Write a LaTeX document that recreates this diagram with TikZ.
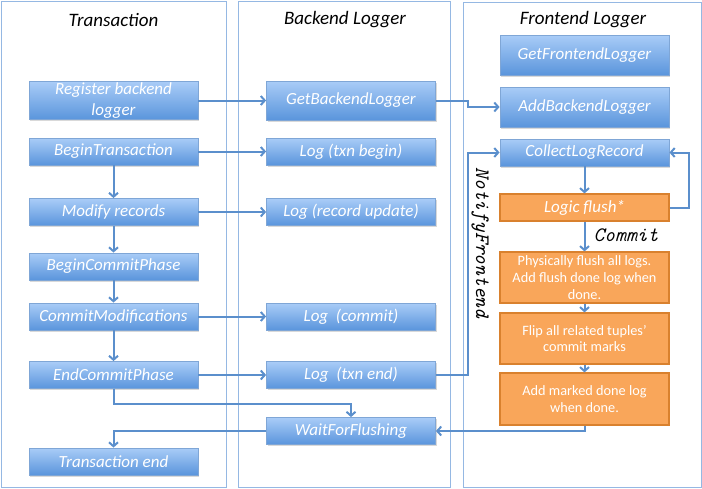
\documentclass[tikz,border=0pt]{standalone}
\usepackage{fontspec}
\setmainfont{Carlito}
\usepackage{tikz}
\usetikzlibrary{positioning,arrows.meta,shadows}
\definecolor{PanelLine}{HTML}{95B8E3}
\definecolor{BoxTop}{HTML}{A9CCF7}
\definecolor{BoxBottom}{HTML}{5A95DC}
\definecolor{BoxLine}{HTML}{7FA6D6}
\definecolor{FlushOrange}{HTML}{F9A65A}
\definecolor{FlushLine}{HTML}{D9812E}
\definecolor{FlowBlue}{HTML}{5B8FCC}
\tikzset{
  panel/.style={draw=PanelLine, line width=1pt},
  coltitle/.style={font=\fontsize{19}{22}\selectfont\itshape},
  blubox/.style={draw=BoxLine, line width=0.8pt, top color=BoxTop, bottom color=BoxBottom,
    text=white, font=\fontsize{17}{20.7}\selectfont\itshape, align=center,
    minimum width=169pt, minimum height=27pt, inner sep=0pt,
    drop shadow={opacity=0.3, shadow xshift=1pt, shadow yshift=-1.5pt}},
  orgbox/.style={draw=FlushLine, line width=1.2pt, fill=FlushOrange,
    text=white, font=\fontsize{14.3}{16.7}\selectfont, align=center,
    minimum width=169pt, minimum height=27pt, inner sep=0pt},
  flow/.style={draw=FlowBlue, line width=2pt, -{Straight Barb[length=4pt, width=9pt]}},
  codelbl/.style={font=\fontsize{20.5}{24}\selectfont\ttfamily\itshape}
}
\begin{document}
\begin{tikzpicture}[x=1pt, y=-1pt]
        \useasboundingbox (0,0) rectangle (702,488);
        % Three swim lanes
        \draw[panel] (1,1) rectangle (226,487);
        \draw[panel] (238,1) rectangle (450,487);
        \draw[panel] (463,2) rectangle (701,487);
        \node[coltitle] (ttxn) at (113.5,20) {Transaction};
        \node[coltitle] (tback) at (345,20) {Backend Logger};
        \node[coltitle] (tfront) at (583,20) {Frontend Logger};

        % Transaction lane
        \node[blubox, minimum height=38pt] (reg) at (113.5,100.5) {Register backend\\logger};
        \node[blubox] (bt) at (113.5,151.5) {BeginTransaction};
        \node[blubox] (mod) at (113.5,212) {Modify records};
        \node[blubox] (bcp) at (113.5,266.5) {BeginCommitPhase};
        \node[blubox] (cm) at (113.5,316.5) {CommitModifications};
        \node[blubox] (ecp) at (113.5,375) {EndCommitPhase};
        \node[blubox] (tend) at (113.5,461.5) {Transaction end};

        % Backend lane
        \node[blubox, minimum height=39pt] (gbl) at (351,100.5) {GetBackendLogger};
        \node[blubox] (ltb) at (351,151.5) {Log (txn begin)};
        \node[blubox] (lru) at (351,212) {Log (record update)};
        \node[blubox] (lc) at (351,316.5) {Log\ \ (commit)};
        \node[blubox] (lte) at (351,375) {Log\ \ (txn end)};
        \node[blubox] (wff) at (351,431) {WaitForFlushing};

        % Frontend lane
        \node[blubox, minimum height=40pt] (gfl) at (584.5,55) {GetFrontendLogger};
        \node[blubox, minimum height=40pt] (abl) at (584.5,107) {AddBackendLogger};
        \node[blubox] (clr) at (584.5,152.5) {CollectLogRecord};
        \node[orgbox, font=\fontsize{17}{20}\selectfont\itshape] (lf) at (584.5,207.5) {Logic flush*};
        \node[orgbox, minimum height=51pt] (pf) at (584.5,277.5) {Physically flush all logs.\\Add flush done log when\\done.};
        \node[orgbox, minimum height=51pt] (flip) at (584.5,338.5) {Flip all related tuples’\\commit marks};
        \node[orgbox, minimum height=52pt] (amd) at (584.5,399) {Add marked done log\\when done.};

        \node[codelbl, rotate=-90] (notify) at (480,243) {NotifyFrontend};
        \node[codelbl] (commit) at (626,235) {Commit};

        \draw[flow] (reg) -- (gbl);
        \draw[flow] (gbl.east) -- ++(32,0) |- (abl.west);
        \draw[flow] (bt) -- (ltb);
        \draw[flow] (bt) -- (mod);
        \draw[flow] (mod) -- (lru);
        \draw[flow] (mod) -- (bcp);
        \draw[flow] (bcp) -- (cm);
        \draw[flow] (cm) -- (lc);
        \draw[flow] (cm) -- (ecp);
        \draw[flow] (ecp) -- (lte);
        \draw[flow] (ecp.south) -- ++(0,15) -| (wff.north);
        \draw[flow] (wff.west) -| (tend.north);
        \draw[flow] (lte.east) -- ++(32,0) |- (clr.west);
        \draw[flow] (clr) -- (lf);
        \draw[flow] (lf.east) -- ++(19,0) |- (clr.east);
        \draw[flow] (lf) -- (pf);
        \draw[flow] (pf) -- (flip);
        \draw[flow] (flip) -- (amd);
        \draw[flow] (amd.south) |- (wff.east);
    \end{tikzpicture}
\end{document}
